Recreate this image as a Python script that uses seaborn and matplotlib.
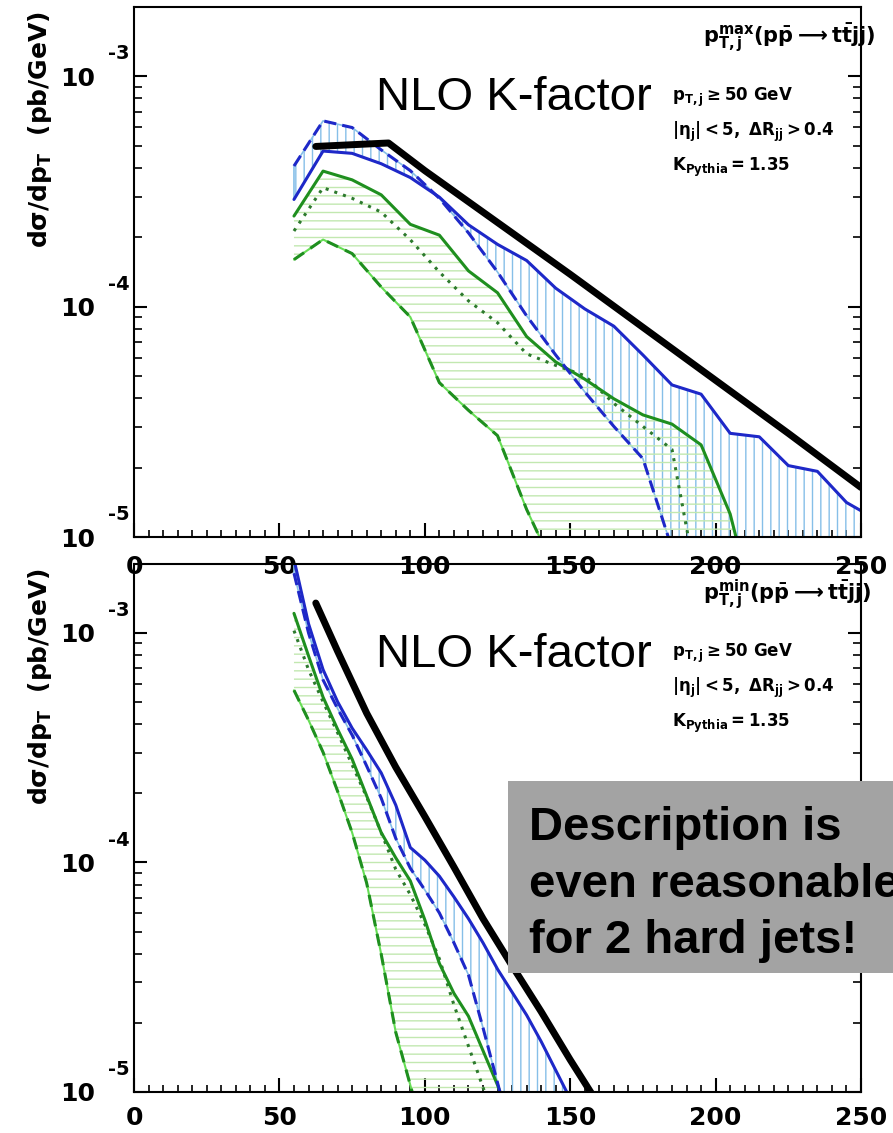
import numpy as np
import matplotlib
matplotlib.use('Agg')
import matplotlib.pyplot as plt
import matplotlib.ticker as mticker
from matplotlib.patches import Rectangle
import seaborn as sns

# ---- data (log10 of dsigma/dpT in pb/GeV) ----
# top panel: p_T of the hardest jet
top_x = [55, 65, 75, 85, 95, 105, 115, 125, 135, 145, 155, 165, 175, 185, 195, 205, 215, 225, 235, 245, 250]
top_blue_solid = [-3.535, -3.325, -3.335, -3.38, -3.44, -3.525, -3.645, -3.73, -3.80, -3.92, -4.01, -4.085,
                  -4.21, -4.34, -4.38, -4.55, -4.565, -4.69, -4.715, -4.85, -4.886]
top_blue_dash = [-3.39, -3.194, -3.223, -3.32, -3.41, -3.53, -3.68, -3.85, -4.04, -4.21, -4.37, -4.52,
                 -4.66, -5.05, -5.5, -5.9, -6.3, -6.7, -7.0, -7.3, -7.5]
top_green_solid = [-3.607, -3.412, -3.45, -3.515, -3.643, -3.69, -3.845, -3.94, -4.13, -4.24, -4.315, -4.40,
                   -4.47, -4.51, -4.60, -4.90, -5.4, -5.8, -6.2, -6.6, -6.8]
top_green_dot = [-3.672, -3.484, -3.53, -3.59, -3.71, -3.85, -3.975, -4.07, -4.205, -4.255, -4.30, -4.42,
                 -4.52, -4.62, -5.3, -5.8, -6.2, -6.6, -7.0, -7.3, -7.5]
top_green_dash = [-3.796, -3.709, -3.77, -3.915, -4.045, -4.33, -4.45, -4.56, -4.88, -5.15, -5.6, -6.0,
                  -6.3, -6.6, -6.9, -7.2, -7.5, -7.8, -8.0, -8.2, -8.3]
top_black_x = [62.5, 87.5, 100, 125, 150, 175, 200, 225, 250]
top_black = [-3.305, -3.29, -3.41, -3.635, -3.86, -4.09, -4.32, -4.55, -4.785]

# bottom panel: p_T of the second jet
bot_x = [55, 60, 65, 70, 75, 80, 85, 90, 95, 100, 105, 110, 115, 120, 125, 130, 135, 140, 145, 150, 155, 160]
bot_blue_solid = [-2.68, -2.96, -3.16, -3.30, -3.415, -3.51, -3.61, -3.75, -3.935, -3.99, -4.06, -4.15,
                  -4.245, -4.35, -4.465, -4.565, -4.665, -4.78, -4.905, -5.03, -5.15, -5.3]
bot_blue_dash = [-2.74, -3.00, -3.205, -3.33, -3.445, -3.58, -3.72, -3.895, -4.025, -4.12, -4.22, -4.35,
                 -4.49, -4.72, -4.96, -5.2, -5.4, -5.6, -5.8, -6.0, -6.2, -6.4]
bot_green_solid = [-2.915, -3.10, -3.28, -3.42, -3.55, -3.71, -3.87, -3.98, -4.08, -4.25, -4.44, -4.57,
                   -4.67, -4.82, -4.97, -5.15, -5.3, -5.5, -5.7, -5.9, -6.1, -6.3]
bot_green_dot = [-2.99, -3.16, -3.30, -3.435, -3.575, -3.715, -3.87, -4.03, -4.14, -4.27, -4.42, -4.62,
                 -4.80, -4.98, -5.15, -5.3, -5.5, -5.7, -5.9, -6.1, -6.3, -6.5]
bot_green_dash = [-3.25, -3.38, -3.52, -3.69, -3.87, -4.09, -4.40, -4.74, -4.97, -5.2, -5.4, -5.6,
                  -5.8, -6.0, -6.2, -6.4, -6.6, -6.8, -7.0, -7.2, -7.4, -7.6]
bot_black_x = [62.5, 70, 80, 90, 100, 110, 120, 130, 140, 150, 160]
bot_black = [-2.87, -3.08, -3.35, -3.585, -3.80, -4.02, -4.245, -4.45, -4.65, -4.86, -5.06]

xticks = [0, 50, 100, 150, 200, 250]
yticks = [1e-5, 1e-4, 1e-3]
ytick_exp = ['-5', '-4', '-3']

panel_titles = [r'$p_{T,j}^{max}(p\bar{p}\longrightarrow t\bar{t}jj)$',
                r'$p_{T,j}^{min}(p\bar{p}\longrightarrow t\bar{t}jj)$']
cut_lines = [r'$p_{T,j}\geq 50\ GeV$', r'$|\eta_j|<5,\ \Delta R_{jj}>0.4$', r'$K_{Pythia}=1.35$']
box_lines = ['Description is', 'even reasonable', 'for 2 hard jets!']

BLUE = '#1e28c8'
LIGHT_BLUE = '#86bfe8'
GREEN = '#1f8f1f'
DARK_GREEN = '#2d7a2d'
LIGHT_GREEN = '#66dd55'
PALE_GREEN = '#c2e8b0'

sns.set_style('ticks')
plt.rcParams['font.family'] = ['DejaVu Sans']
plt.rcParams['font.weight'] = 'bold'
plt.rcParams['mathtext.fontset'] = 'dejavusans'
plt.rcParams['mathtext.default'] = 'bf'
plt.rcParams['hatch.linewidth'] = 1.0
plt.rcParams['axes.linewidth'] = 1.5
for key in ['text.color', 'axes.labelcolor', 'xtick.color', 'ytick.color', 'axes.edgecolor']:
    plt.rcParams[key] = 'black'

fig = plt.figure(figsize=(8.93, 11.33), dpi=100)
ax_top = fig.add_axes([0.1501, 0.5260, 0.8141, 0.4678])
ax_bot = fig.add_axes([0.1501, 0.0362, 0.8141, 0.4660])
ax_bot.patch.set_alpha(0)


def lg(a):
    return 10.0 ** np.asarray(a)


def draw_panel(ax, x, b_sol, b_dash, g_sol, g_dot, g_dash, k_x, k_y, title, xpad):
    ax.set_yscale('log')
    # uncertainty bands
    ax.fill_between(x, lg(b_dash), lg(b_sol), facecolor='none', edgecolor=LIGHT_BLUE,
                    hatch='||', linewidth=1.2)
    ax.fill_between(x, lg(g_dash), lg(g_sol), facecolor='none', edgecolor=PALE_GREEN,
                    hatch='--', linewidth=0)
    sns.lineplot(x=x, y=lg(g_dash), ax=ax, color=LIGHT_GREEN, linewidth=1.5, estimator=None, sort=False)
    sns.lineplot(x=x, y=lg(g_dash), ax=ax, color=GREEN, linewidth=2.2, linestyle=(0, (4, 2.5)),
                 estimator=None, sort=False)
    sns.lineplot(x=x, y=lg(g_dot), ax=ax, color=DARK_GREEN, linewidth=2.2, linestyle=(0, (1, 2)),
                 estimator=None, sort=False)
    sns.lineplot(x=x, y=lg(g_sol), ax=ax, color=GREEN, linewidth=2.2, estimator=None, sort=False)
    sns.lineplot(x=x, y=lg(b_dash), ax=ax, color=BLUE, linewidth=2.2, linestyle=(0, (4, 2)),
                 estimator=None, sort=False)
    sns.lineplot(x=x, y=lg(b_sol), ax=ax, color=BLUE, linewidth=2.2, estimator=None, sort=False)
    sns.lineplot(x=k_x, y=lg(k_y), ax=ax, color='black', linewidth=5, estimator=None, sort=False)

    ax.set_xlim(0, 250)
    ax.set_ylim(1e-5, 10 ** -2.7)
    ax.set_xlabel('')
    ax.set_ylabel(r'd$\sigma$/dp$_{T}$  (pb/GeV)', fontsize=18, fontweight='bold', loc='top')
    ax.yaxis.set_label_coords(-0.11, 0.992)

    ax.xaxis.set_major_locator(mticker.FixedLocator(xticks))
    ax.xaxis.set_minor_locator(mticker.MultipleLocator(5))
    ax.yaxis.set_major_locator(mticker.FixedLocator(yticks))
    ax.yaxis.set_major_formatter(mticker.FixedFormatter(['10'] * len(yticks)))
    ax.yaxis.set_minor_locator(mticker.LogLocator(base=10, subs=np.arange(2, 10)))
    ax.yaxis.set_minor_formatter(mticker.NullFormatter())
    ax.tick_params(axis='x', which='major', direction='in', length=10, width=1.5,
                   labelsize=18, pad=xpad, top=False)
    ax.tick_params(axis='x', which='minor', direction='in', length=5, width=1.2, top=False)
    ax.tick_params(axis='y', which='major', direction='in', length=9.5, width=1.5,
                   labelsize=18, pad=28, right=True)
    ax.tick_params(axis='y', which='minor', direction='in', length=6, width=1.2, right=True)
    for spine in ax.spines.values():
        spine.set_visible(True)
        spine.set_linewidth(1.5)
        spine.set_color('black')

    for v, e in zip(yticks, ytick_exp):
        ax.annotate(e, xy=(0, v), xycoords=ax.get_yaxis_transform(), xytext=(-19, 16),
                    textcoords='offset points', ha='left', va='center', fontsize=14,
                    fontweight='bold', annotation_clip=False)

    ax.text(0.783, 0.932, title, transform=ax.transAxes, fontsize=15, va='baseline', ha='left')
    ax.text(0.333, 0.805, 'NLO K-factor', transform=ax.transAxes, fontsize=34,
            fontweight='normal', family='Liberation Sans', va='baseline', ha='left')
    for i, line in enumerate(cut_lines):
        ax.text(0.740, 0.823 - 0.066 * i, line, transform=ax.transAxes, fontsize=12,
                va='baseline', ha='left')


draw_panel(ax_top, top_x, top_blue_solid, top_blue_dash, top_green_solid, top_green_dot,
           top_green_dash, top_black_x, top_black, panel_titles[0], 13)
draw_panel(ax_bot, bot_x, bot_blue_solid, bot_blue_dash, bot_green_solid, bot_green_dot,
           bot_green_dash, bot_black_x, bot_black, panel_titles[1], 10)

# grey comment box (runs off the right edge)
fig.patches.append(Rectangle((0.5694, 0.1412), 0.5, 0.1695, transform=fig.transFigure,
                             facecolor='#a3a3a3', edgecolor='none', zorder=5))
for i, line in enumerate(box_lines):
    fig.text(0.5924, 0.2586 - 0.0499 * i, line, fontsize=34, fontweight='bold', color='black',
             family='Liberation Sans', va='baseline', ha='left', zorder=6)

fig.savefig('out.png', dpi=100)
